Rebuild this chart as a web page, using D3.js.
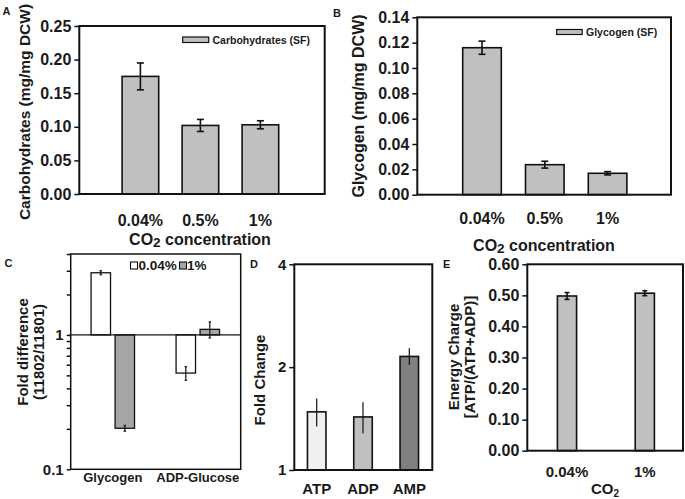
<!DOCTYPE html>
<html>
<head>
<meta charset="utf-8">
<script src="https://cdn.jsdelivr.net/npm/d3@7"></script>
<style>
  html, body { margin: 0; padding: 0; background: #fff; }
  svg { display: block; font-family: "Liberation Sans", Arial, sans-serif; }
  text { fill: #1a1a1a; font-weight: bold; }
</style>
</head>
<body>
<svg id="chart" width="685" height="499"></svg>
<script>
// ---------------- DATA ----------------
// Panel A
const carbCats = ["0.04%", "0.5%", "1%"];
const carbVals = [0.175, 0.102, 0.103];
const carbErr = [0.020, 0.009, 0.006];
const carbTicks = [0.00, 0.05, 0.10, 0.15, 0.20, 0.25];
const carbLegend = "Carbohydrates (SF)";
// Panel B
const glyCats = ["0.04%", "0.5%", "1%"];
const glyVals = [0.116, 0.0237, 0.0169];
const glyErr = [0.0052, 0.0027, 0.0013];
const glyTicks = [0.00, 0.02, 0.04, 0.06, 0.08, 0.10, 0.12, 0.14];
const glyLegend = "Glycogen (SF)";
// Panel C
const foldGenes = ["Glycogen", "ADP-Glucose"];
const foldSeries = ["0.04%", "1%"];
const fold004 = [2.90, 0.52];
const fold004Err = [0.10, 0.06];
const fold1 = [0.202, 1.10];
const fold1Err = [0.010, 0.15];
const foldTicks = [0.1, 0.2, 0.3, 0.4, 0.5, 0.6, 0.7, 0.8, 0.9, 1, 2, 3, 4];
const foldTickLabels = [0.1, 1];
// Panel D
const nucCats = ["ATP", "ADP", "AMP"];
const nucVals = [1.48, 1.43, 2.15];
const nucErr = [0.14, 0.15, 0.12];
const nucTicks = [1, 2, 4];
// Panel E
const ecCats = ["0.04%", "1%"];
const ecVals = [0.498, 0.507];
const ecErr = [0.011, 0.008];
const ecTicks = [0.00, 0.10, 0.20, 0.30, 0.40, 0.50, 0.60];

// ---------------- DRAW ----------------
const svg = d3.select("#chart");

function bandScale(cats, c0, step, bw) {
  const pi = 1 - bw / step;
  return d3.scaleBand().domain(cats)
    .range([c0 - step / 2, c0 - step / 2 + cats.length * step])
    .paddingInner(pi).paddingOuter(pi / 2);
}

function yAxis(g, y, ticks, fmt, size, fontSize) {
  const ax = d3.axisLeft(y).tickValues(ticks).tickSize(size).tickPadding(3).tickFormat(fmt);
  g.call(ax);
  g.select(".domain").remove();
  g.selectAll(".tick line").attr("stroke", "#111").attr("stroke-width", 1.5);
  g.selectAll(".tick text").attr("font-size", fontSize).attr("font-family", "Liberation Sans, Arial, sans-serif")
    .attr("font-weight", "bold").attr("fill", "#1a1a1a");
}

function box(l, t, r, b, sw) {
  svg.append("rect").attr("x", l).attr("y", t).attr("width", r - l).attr("height", b - t)
    .attr("fill", "none").attr("stroke", "#111").attr("stroke-width", sw);
}

function errBar(g, x, y1, y2, cap, sw) {
  g.append("line").attr("x1", x).attr("x2", x).attr("y1", y1).attr("y2", y2)
    .attr("stroke", "#111").attr("stroke-width", sw);
  if (cap > 0) {
    [y1, y2].forEach(yy => g.append("line").attr("x1", x - cap / 2).attr("x2", x + cap / 2)
      .attr("y1", yy).attr("y2", yy).attr("stroke", "#111").attr("stroke-width", sw));
  }
}

function label(x, y, txt, size, anchor) {
  return svg.append("text").attr("x", x).attr("y", y).attr("font-size", size)
    .attr("text-anchor", anchor || "middle").text(txt);
}

function rotLabel(x, y, txt, size) {
  return svg.append("text").attr("transform", `translate(${x},${y}) rotate(-90)`)
    .attr("font-size", size).attr("text-anchor", "middle").attr("dy", "0.35em").text(txt);
}

function co2Title(x, y, size) {
  const t = svg.append("text").attr("x", x).attr("y", y).attr("font-size", size).attr("text-anchor", "middle");
  t.append("tspan").text("CO");
  t.append("tspan").attr("font-size", size * 0.85).attr("dy", 2).text("2");
  t.append("tspan").attr("dy", -2).text(" concentration");
}

// Simple bar panel (A, B, E)
function simplePanel(o) {
  const y = d3.scaleLinear().domain([o.ticks[0], o.ticks[o.ticks.length - 1]]).range([o.b, o.t]);
  const x = bandScale(o.cats, o.c0, o.step, o.bw);
  const g = svg.append("g");
  g.selectAll("rect").data(o.vals).join("rect")
    .attr("x", (d, i) => x(o.cats[i])).attr("width", x.bandwidth())
    .attr("y", d => y(d)).attr("height", d => y(0) - y(d))
    .attr("fill", "#c0c0c0").attr("stroke", "#111").attr("stroke-width", o.barSw);
  o.vals.forEach((v, i) => {
    const cx = x(o.cats[i]) + x.bandwidth() / 2;
    errBar(g, cx, y(v + o.err[i]), y(v - o.err[i]), o.cap, 1.6);
  });
  box(o.l, o.t, o.r, o.b, o.boxSw);
  yAxis(svg.append("g").attr("transform", `translate(${o.l},0)`), y, o.ticks, d3.format(".2f"), 5, o.tickFont);
  o.cats.forEach(c => label(x(c) + x.bandwidth() / 2, o.xLabY, c, o.xFont));
  return { x, y };
}

// Panel A
simplePanel({ l: 79.3, t: 26, r: 324.7, b: 194, cats: carbCats, vals: carbVals, err: carbErr,
  ticks: carbTicks, c0: 140.4, step: 60, bw: 36.6, cap: 7, barSw: 1.6, boxSw: 2,
  tickFont: 16, xFont: 16, xLabY: 226 });
rotLabel(25, 112, "Carbohydrates (mg/mg DCW)", 15.5);
co2Title(200, 245, 16);
svg.append("rect").attr("x", 182.7).attr("y", 37).attr("width", 26).attr("height", 5.5)
  .attr("fill", "#c0c0c0").attr("stroke", "#111").attr("stroke-width", 1.2);
label(212.5, 44, carbLegend, 10.5, "start");
label(2.5, 15, "A", 11, "start");

// Panel B
simplePanel({ l: 417.3, t: 17.3, r: 671, b: 194.7, cats: glyCats, vals: glyVals, err: glyErr,
  ticks: glyTicks, c0: 482, step: 62.8, bw: 38.6, cap: 7, barSw: 1.6, boxSw: 2,
  tickFont: 16, xFont: 16, xLabY: 224 });
rotLabel(358, 106, "Glycogen (mg/mg DCW)", 16);
co2Title(544, 251, 16);
svg.append("rect").attr("x", 556.7).attr("y", 29.5).attr("width", 25.5).attr("height", 5)
  .attr("fill", "#c0c0c0").attr("stroke", "#111").attr("stroke-width", 1.2);
label(586, 36, glyLegend, 10.5, "start");
label(333, 17, "B", 11, "start");

// Panel C (log, grouped, bars from 1)
(function () {
  const l = 70.7, t = 254, r = 240.7, b = 469.3;
  const y = d3.scaleLog().domain([0.1, 4]).range([b, t]);
  const x0 = bandScale(foldGenes, 112.8, 85, 48);
  const x1 = d3.scaleBand().domain(foldSeries).range([0, x0.bandwidth()]).paddingInner(0.19).paddingOuter(0.095);
  const series = [
    { name: foldSeries[0], vals: fold004, err: fold004Err, fill: "#ffffff" },
    { name: foldSeries[1], vals: fold1, err: fold1Err, fill: "#a6a6a6" }
  ];
  const g = svg.append("g");
  series.forEach(s => {
    s.vals.forEach((v, i) => {
      const bx = x0(foldGenes[i]) + x1(s.name);
      g.append("rect").attr("x", bx).attr("width", x1.bandwidth())
        .attr("y", Math.min(y(1), y(v))).attr("height", Math.abs(y(1) - y(v)))
        .attr("fill", s.fill).attr("stroke", "#111").attr("stroke-width", 1.3);
      errBar(g, bx + x1.bandwidth() / 2, y(v + s.err[i]), y(v - s.err[i]), 2.5, 1.2);
    });
  });
  svg.append("line").attr("x1", l).attr("x2", r).attr("y1", y(1)).attr("y2", y(1))
    .attr("stroke", "#111").attr("stroke-width", 1.3);
  box(l, t, r, b, 1.5);
  const ag = svg.append("g").attr("transform", `translate(${l},0)`);
  yAxis(ag, y, foldTicks, d => foldTickLabels.includes(d) ? String(d) : "", 4, 15);
  foldGenes.forEach(gname => label(x0(gname) + x0.bandwidth() / 2, 482, gname, 13));
  rotLabel(23, 352, "Fold difference", 15);
  rotLabel(39, 352, "(11802/11801)", 15);
  // legend
  svg.append("rect").attr("x", 130.5).attr("y", 262).attr("width", 7).attr("height", 7)
    .attr("fill", "#fff").attr("stroke", "#111").attr("stroke-width", 1.1);
  label(138.5, 270, foldSeries[0], 13.5, "start");
  svg.append("rect").attr("x", 179.5).attr("y", 262).attr("width", 7).attr("height", 7)
    .attr("fill", "#a6a6a6").attr("stroke", "#111").attr("stroke-width", 1.1);
  label(187, 270, foldSeries[1], 13.5, "start");
  label(4.5, 267, "C", 11, "start");
})();

// Panel D (log2)
(function () {
  const l = 294.3, t = 264.3, r = 432.3, b = 470;
  const y = d3.scaleLog().base(2).domain([1, 4]).range([b, t]);
  const x = bandScale(nucCats, 316.7, 46.3, 18.5);
  const fills = ["#f0f0f0", "#c0c0c0", "#808080"];
  const g = svg.append("g");
  nucVals.forEach((v, i) => {
    g.append("rect").attr("x", x(nucCats[i])).attr("width", x.bandwidth())
      .attr("y", y(v)).attr("height", y(1) - y(v))
      .attr("fill", fills[i]).attr("stroke", "#111").attr("stroke-width", 1.6);
    errBar(g, x(nucCats[i]) + x.bandwidth() / 2, y(v + nucErr[i]), y(v - nucErr[i]), 0, 1.2);
  });
  box(l, t, r, b, 2);
  yAxis(svg.append("g").attr("transform", `translate(${l},0)`), y, nucTicks, d3.format("d"), 5, 15);
  nucCats.forEach(c => label(x(c) + x.bandwidth() / 2, 494, c, 15));
  rotLabel(260, 380, "Fold Change", 15);
  label(250, 268, "D", 11, "start");
})();

// Panel E
(function () {
  simplePanel({ l: 527.3, t: 264.3, r: 683, b: 450.7, cats: ecCats, vals: ecVals, err: ecErr,
    ticks: ecTicks, c0: 567, step: 77.8, bw: 19.2, cap: 5, barSw: 1.6, boxSw: 2,
    tickFont: 16, xFont: 15, xLabY: 477 });
  rotLabel(454, 357, "Energy Charge", 15);
  rotLabel(470, 357, "[ATP/(ATP+ADP)]", 15);
  const t = svg.append("text").attr("x", 605).attr("y", 494).attr("font-size", 15).attr("text-anchor", "middle");
  t.append("tspan").text("CO");
  t.append("tspan").attr("font-size", 10).attr("dy", 3).text("2");
  label(443, 268, "E", 11, "start");
})();
</script>
</body>
</html>
